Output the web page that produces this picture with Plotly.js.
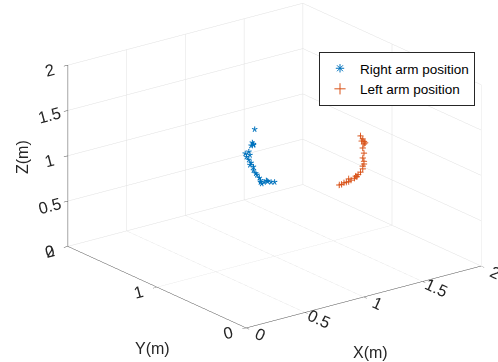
<!DOCTYPE html>
<html>
<head>
<meta charset="utf-8">
<script src="https://cdn.plot.ly/plotly-3.0.1.min.js"></script>
<style>html,body{margin:0;padding:0;background:#fff;}#chart{width:498px;height:362px;}</style>
</head>
<body>
<div id="chart"></div>
<script>
// Right arm position (asterisks)
const rightX = [0.83,0.81,0.82,0.80,0.82,0.78,0.75,0.79,0.76,0.78,0.80,0.79,0.82,0.82,0.84,0.85,0.87,0.88,0.91,0.93,0.94,0.97,1.00,0.88,0.89];
const rightY = [1,1,1,1,1,1,1,1,1,1,1,1,1,1,1,1,1,1,1,1,1,1,1,1,1];
const rightZ = [1.46,1.32,1.30,1.29,1.29,1.23,1.22,1.19,1.18,1.14,1.10,1.08,1.05,1.01,0.97,0.95,0.91,0.86,0.85,0.86,0.85,0.83,0.82,0.88,0.84];
// Left arm position (plus signs)
const leftX = [1.73,1.75,1.76,1.76,1.75,1.76,1.76,1.76,1.75,1.75,1.73,1.71,1.69,1.68,1.65,1.63,1.61,1.59,1.57,1.55,1.63,1.74,1.77,1.75,1.70];
const leftY = [1,1,1,1,1,1,1,1,1,1,1,1,1,1,1,1,1,1,1,1,1,1,1,1,1];
const leftZ = [1.08,1.04,1.01,0.98,0.94,0.88,0.79,0.76,0.74,0.71,0.68,0.66,0.65,0.63,0.62,0.61,0.61,0.61,0.60,0.60,0.64,1.02,0.99,0.83,0.64];
const seriesNames = ['Right arm position','Left arm position'];
const xTicks = [0,0.5,1,1.5,2];
const yTicks = [0,1,2];
const zTicks = [0,0.5,1,1.5,2];

const blue = '#0072BD', orange = '#D95319';
const font = {family:'Liberation Sans', size:14, color:'#262626'};

function axis(ticks){
  return {
    range:[0,2], autorange:false, tickvals:ticks, ticktext:ticks.map(String),
    showgrid:true, gridcolor:'#e0e0e0', gridwidth:1,
    showline:true, linecolor:'#4d4d4d', linewidth:1,
    ticks:'inside', ticklen:5, tickcolor:'#4d4d4d',
    zeroline:false, showbackground:false, showspikes:false,
    title:{text:''}, tickfont:font
  };
}

const traces = [
  {type:'scatter3d', mode:'text', x:rightX, y:rightY, z:rightZ, text:'*', textposition:'middle center',
   textfont:{family:'Liberation Sans', size:16, color:blue}, showlegend:false, hoverinfo:'skip'},
  {type:'scatter3d', mode:'text', x:leftX, y:leftY, z:leftZ, text:'+', textposition:'middle center',
   textfont:{family:'Liberation Sans', size:13, color:orange}, showlegend:false, hoverinfo:'skip'},
  {type:'scatter', mode:'markers', x:[null], y:[null], name:seriesNames[0],
   marker:{symbol:'asterisk-open', size:7, color:blue, line:{color:blue, width:1}}, hoverinfo:'skip'},
  {type:'scatter', mode:'markers', x:[null], y:[null], name:seriesNames[1],
   marker:{symbol:'cross-thin-open', size:8, color:orange, line:{color:orange, width:1}}, hoverinfo:'skip'}
];

const d = 2.5, k = 1.63;
const ctr = {x:-0.130, y:0.062, z:-0.080};
const dir = {x:-0.567, y:-0.747, z:0.347};
const titleFont = {family:'Liberation Sans', size:16, color:'#262626'};
const layout = {
  width:498, height:362, margin:{l:0,r:0,t:0,b:0},
  paper_bgcolor:'#ffffff', plot_bgcolor:'rgba(0,0,0,0)',
  font:font,
  xaxis:{visible:false}, yaxis:{visible:false},
  scene:{
    domain:{x:[0,1], y:[0,1]},
    bgcolor:'#ffffff',
    xaxis:axis(xTicks), yaxis:axis(yTicks), zaxis:axis(zTicks),
    aspectmode:'manual', aspectratio:{x:k, y:k, z:0.655*k},
    camera:{projection:{type:'orthographic'}, up:{x:0,y:0,z:1}, center:ctr,
            eye:{x:ctr.x+dir.x*d, y:ctr.y+dir.y*d, z:ctr.z+dir.z*d}}
  },
  showlegend:true,
  legend:{x:319/498, y:1-52/362, xanchor:'left', yanchor:'top', bgcolor:'#ffffff',
          bordercolor:'#262626', borderwidth:1, font:{family:'Liberation Sans', size:13.5, color:'#000'}},
  annotations:[
    {text:'X(m)', xref:'paper', yref:'paper', x:370/498, y:1-352/362, xanchor:'center', yanchor:'middle', showarrow:false, font:titleFont},
    {text:'Y(m)', xref:'paper', yref:'paper', x:152/498, y:1-348/362, xanchor:'center', yanchor:'middle', showarrow:false, font:titleFont},
    {text:'Z(m)', xref:'paper', yref:'paper', x:23/498, y:1-157/362, xanchor:'center', yanchor:'middle', showarrow:false, textangle:-90, font:titleFont}
  ]
};
Plotly.newPlot('chart', traces, layout, {displayModeBar:false});
</script>
</body>
</html>
